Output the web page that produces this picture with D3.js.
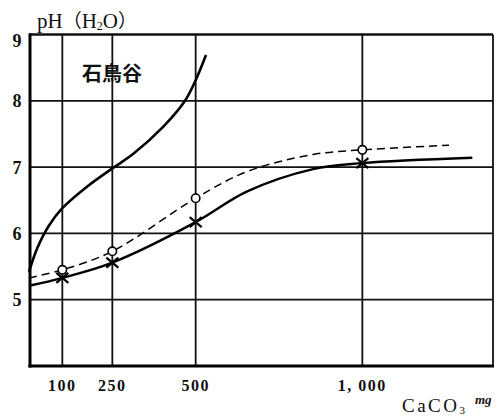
<!DOCTYPE html>
<html>
<head>
<meta charset="utf-8">
<script src="https://cdn.jsdelivr.net/npm/d3@7"></script>
<style>
  html, body { margin: 0; padding: 0; background: #fff; }
  svg { display: block; }
</style>
</head>
<body>
<script>
// CaCO3 dose (mg) on the x axis, soil pH (H2O) on the y axis
const xTicks = [100, 250, 500, 1000];
const xTickLabels = ["100", "250", "500", "1, 000"];
const yTicks = [5, 6, 7, 8, 9];

// measured points
const doses = [100, 250, 500, 1000];
const phOpen = [5.45, 5.73, 6.53, 7.26];     // ○ series (dashed)
const phCross = [5.33, 5.56, 6.17, 7.06];    // × series (solid)

// drawn curves
const openCurveMg = [0, 100, 250, 500, 653, 852, 1000, 1260];
const openCurvePh = [5.33, 5.45, 5.73, 6.53, 6.93, 7.19, 7.26, 7.33];
const crossCurveMg = [0, 100, 250, 500, 653, 852, 1000, 1330];
const crossCurvePh = [5.21, 5.33, 5.56, 6.17, 6.63, 6.97, 7.06, 7.14];
const ishiMg = [0, 25, 60, 100, 173, 250, 313, 403, 468, 500, 531];
const ishiPh = [5.42, 5.78, 6.12, 6.38, 6.7, 6.98, 7.2, 7.61, 8.0, 8.31, 8.69];

const W = 498, H = 418;
const svg = d3.select("body").append("svg").attr("width", W).attr("height", H);

const x = d3.scaleLinear().domain([0, 1392]).range([29, 493]);
const y = d3.scaleLinear().domain([4, 9]).range([366, 34.5]);

const serif = "'Liberation Serif', 'DejaVu Serif', serif";

// grid
const g = svg.append("g");
g.selectAll("line.vg").data(xTicks).join("line")
  .attr("x1", d => x(d)).attr("x2", d => x(d))
  .attr("y1", y(9)).attr("y2", y(4))
  .attr("stroke", "#111").attr("stroke-width", 1.8);
g.selectAll("line.hg").data(yTicks).join("line")
  .attr("x1", x(0)).attr("x2", x.range()[1])
  .attr("y1", d => y(d)).attr("y2", d => y(d))
  .attr("stroke", "#111").attr("stroke-width", 1.8);

// frame: heavy left and bottom axes, lighter top and right
g.append("line").attr("x1", x.range()[1]).attr("x2", x.range()[1])
  .attr("y1", y(9)).attr("y2", y(4)).attr("stroke", "#111").attr("stroke-width", 1.8);
g.append("line").attr("x1", x(0)).attr("x2", x.range()[1])
  .attr("y1", y(9)).attr("y2", y(9)).attr("stroke", "#111").attr("stroke-width", 1.8);
g.append("line").attr("x1", x(0) + 1).attr("x2", x(0) + 1)
  .attr("y1", y(9) - 1).attr("y2", y(4) + 1.5).attr("stroke", "#000").attr("stroke-width", 3);
g.append("line").attr("x1", x(0) - 0.5).attr("x2", x.range()[1] + 1)
  .attr("y1", y(4)).attr("y2", y(4)).attr("stroke", "#000").attr("stroke-width", 3);

// y tick labels
svg.selectAll("text.yt").data(yTicks).join("text")
  .attr("x", 17).attr("y", d => y(d) + (d === 9 ? 6 : 0))
  .attr("dy", "0.36em")
  .attr("text-anchor", "middle")
  .attr("font-family", serif).attr("font-weight", "bold").attr("font-size", 18)
  .attr("fill", "#111")
  .text(d => d);

// x tick labels
svg.selectAll("text.xt").data(xTicks).join("text")
  .attr("x", (d, i) => x(d))
  .attr("y", 391)
  .attr("text-anchor", "middle")
  .attr("font-family", serif).attr("font-weight", "bold").attr("font-size", 16)
  .attr("letter-spacing", 1.5)
  .attr("fill", "#111")
  .text((d, i) => xTickLabels[i]);

// axis titles
const yTitle = svg.append("text").attr("x", 37).attr("y", 28)
  .attr("font-family", serif).attr("font-size", 21).attr("fill", "#111");
yTitle.append("tspan").text("pH");
yTitle.append("tspan").attr("font-family", "'Noto Sans CJK JP'").attr("font-size", 19).text("（");
yTitle.append("tspan").text("H");
yTitle.append("tspan").attr("font-size", 12).attr("dy", 2).text("2");
yTitle.append("tspan").attr("dy", -2).text("O");
yTitle.append("tspan").attr("font-family", "'Noto Sans CJK JP'").attr("font-size", 19).text("）");

const xTitle = svg.append("text").attr("x", 402).attr("y", 412)
  .attr("font-family", serif).attr("font-size", 19).attr("fill", "#111")
  .attr("letter-spacing", 2.5);
xTitle.append("tspan").text("CaCO");
xTitle.append("tspan").attr("font-size", 11).attr("dy", 2).attr("letter-spacing", 0).text("3");
xTitle.append("tspan").attr("dx", 10).attr("dy", -10).attr("font-size", 13)
  .attr("font-style", "italic").attr("font-weight", "bold").attr("letter-spacing", 0).text("mg");

// series label
svg.append("text").attr("x", 82).attr("y", 81)
  .attr("font-family", "'Noto Sans CJK JP'").attr("font-weight", "bold")
  .attr("font-size", 20).attr("fill", "#111")
  .text("石鳥谷");

// curves
const line = d3.line().x(d => x(d[0])).y(d => y(d[1])).curve(d3.curveCatmullRom.alpha(0.5));

svg.append("path").datum(d3.zip(ishiMg, ishiPh))
  .attr("d", line).attr("fill", "none").attr("stroke", "#000").attr("stroke-width", 2.6);

svg.append("path").datum(d3.zip(crossCurveMg, crossCurvePh))
  .attr("d", line).attr("fill", "none").attr("stroke", "#000").attr("stroke-width", 2.4);

svg.append("path").datum(d3.zip(openCurveMg, openCurvePh))
  .attr("d", line).attr("fill", "none").attr("stroke", "#000").attr("stroke-width", 1.5)
  .attr("stroke-dasharray", "8,5");

// markers
svg.selectAll("circle.open").data(d3.zip(doses, phOpen)).join("circle")
  .attr("cx", d => x(d[0])).attr("cy", d => y(d[1])).attr("r", 4.2)
  .attr("fill", "#fff").attr("stroke", "#000").attr("stroke-width", 1.6);

const cross = svg.selectAll("g.cross").data(d3.zip(doses, phCross)).join("g")
  .attr("transform", d => `translate(${x(d[0])},${y(d[1])})`);
cross.append("path")
  .attr("d", "M-6,-5L6,5M-6,5L6,-5")
  .attr("stroke", "#000").attr("stroke-width", 2.2).attr("fill", "none");
</script>
</body>
</html>
